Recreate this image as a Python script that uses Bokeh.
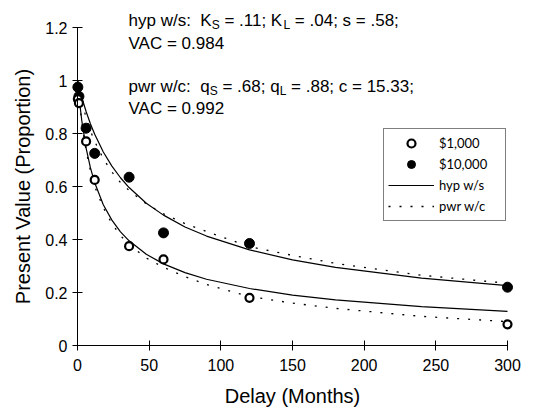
import math
from bokeh.plotting import figure
from bokeh.models import Range1d, FixedTicker, Legend, LegendItem, Label
from bokeh.embed import file_html
from bokeh.resources import INLINE

# ---------------- data ----------------
delays = [0.25, 1, 6, 12, 36, 60, 120, 300]
pv_1000 = [0.93, 0.915, 0.77, 0.625, 0.375, 0.325, 0.18, 0.08]
pv_10000 = [0.975, 0.94, 0.82, 0.725, 0.635, 0.425, 0.385, 0.22]

curve_delays = [0, 1, 3, 6, 9, 12, 18, 24, 30, 36, 48, 60, 75, 90, 120, 150, 180, 240, 300]
hyp_small = [1.0, 0.941, 0.848, 0.745, 0.671, 0.614, 0.531, 0.473, 0.429, 0.395, 0.344, 0.308,
             0.275, 0.250, 0.215, 0.190, 0.172, 0.147, 0.129]
hyp_large = [1.0, 0.977, 0.936, 0.883, 0.837, 0.797, 0.730, 0.677, 0.633, 0.596, 0.537, 0.492,
             0.447, 0.413, 0.361, 0.323, 0.295, 0.254, 0.226]
pwr_small = [1.0, 0.94, 0.84, 0.735, 0.66, 0.60, 0.52, 0.46, 0.415, 0.38, 0.33, 0.295,
             0.26, 0.23, 0.185, 0.16, 0.14, 0.11, 0.09]
pwr_large = [1.0, 0.97, 0.92, 0.86, 0.81, 0.77, 0.705, 0.655, 0.615, 0.585, 0.535, 0.497,
             0.46, 0.43, 0.373, 0.34, 0.31, 0.265, 0.235]

x_ticks = [0, 50, 100, 150, 200, 250, 300]
y_ticks = [0, 0.2, 0.4, 0.6, 0.8, 1, 1.2]
y_tick_labels = ["0", "0.2", "0.4", "0.6", "0.8", "1", "1.2"]
legend_labels = ["$1,000", "$10,000", "hyp w/s", "pwr w/c"]

# ---------------- figure ----------------
PX = 430 / 300.0      # pixels per month
PY = 265.0            # pixels per unit proportion
FONT = "Liberation Sans"
X_START = -77 / PX
FRAME_W = 521
Y_START = -(408 - 345) / PY
FRAME_H = 400

p = figure(width=541, height=408, title=None,
           x_range=Range1d(X_START, X_START + FRAME_W / PX),
           y_range=Range1d(Y_START, Y_START + FRAME_H / PY),
           output_backend="svg", toolbar_location=None,
           min_border_left=0, min_border_right=20, min_border_top=8, min_border_bottom=0)
p.xgrid.visible = False
p.ygrid.visible = False
p.outline_line_color = None

for ax in (p.xaxis, p.yaxis):
    ax.axis_line_color = "black"
    ax.major_tick_line_color = "black"
    ax.minor_tick_line_color = None
    ax.major_tick_in = 5
    ax.major_tick_out = 5
    ax.major_label_text_font = FONT
    ax.major_label_text_font_size = "16px"
    ax.major_label_text_color = "black"

p.xaxis.ticker = FixedTicker(ticks=x_ticks)
p.xaxis.bounds = (0, 300)
p.xaxis.fixed_location = 0
p.xaxis.major_label_standoff = 8
p.xaxis.axis_label = "Delay (Months)"
p.xaxis.axis_label_text_font = FONT
p.xaxis.axis_label_text_font_size = "20px"
p.xaxis.axis_label_text_font_style = "normal"
p.xaxis.axis_label_text_color = "black"
p.xaxis.axis_label_standoff = 11

p.yaxis.ticker = FixedTicker(ticks=y_ticks)
p.yaxis.major_label_overrides = {t: s for t, s in zip(y_ticks, y_tick_labels)}
p.yaxis.bounds = (0, 1.2)
p.yaxis.fixed_location = 0
p.yaxis.major_label_standoff = 5

# curves
r_hyp_s = p.line(curve_delays, hyp_small, line_color="black", line_width=1.2)
r_hyp_l = p.line(curve_delays, hyp_large, line_color="black", line_width=1.2)
r_pwr_s = p.line(curve_delays, pwr_small, line_color="black", line_width=1.3, line_dash="2 9")
r_pwr_l = p.line(curve_delays, pwr_large, line_color="black", line_width=1.3, line_dash="2 9")

# points
r_big = p.scatter(delays, pv_10000, marker="circle", size=10, fill_color="black", line_color="black")
r_small = p.scatter(delays, pv_1000, marker="circle", size=8, fill_color="white", line_color="black", line_width=2.2)

legend = Legend(items=[
    LegendItem(label=legend_labels[0], renderers=[r_small]),
    LegendItem(label=legend_labels[1], renderers=[r_big]),
    LegendItem(label=legend_labels[2], renderers=[r_hyp_s]),
    LegendItem(label=legend_labels[3], renderers=[r_pwr_s]),
], location=(383, 408 - 221), margin=0, padding=4, spacing=1,
    glyph_width=46, glyph_height=20, label_height=20, label_width=62, label_standoff=5,
    label_text_font="Lato", label_text_font_size="13px", label_text_color="black",
    border_line_color="black", border_line_width=1, background_fill_color="white",
    background_fill_alpha=1)
p.add_layout(legend)

# y axis title
p.add_layout(Label(x=(22 - 77) / PX, y=0.6, text="Present Value (Proportion)", angle=math.pi / 2,
                   text_align="center", text_baseline="middle", text_font=FONT,
                   text_font_size="20px", text_color="black"))

# annotation text with subscripts
AW = {' ': 278, '$': 556, '(': 333, ')': 333, ',': 278, '.': 278, '/': 278, ':': 278, ';': 278,
      '=': 584, 'A': 667, 'C': 722, 'K': 667, 'L': 556, 'S': 667, 'V': 667, 'a': 556, 'c': 500,
      'e': 556, 'h': 556, 'p': 556, 'q': 556, 'r': 333, 's': 500, 'w': 722, 'y': 500}
for d in "0123456789":
    AW[d] = 556

def tw(s, size):
    return sum(AW.get(c, 556) for c in s) / 1000.0 * size

MAIN, SUB = 17, 12
X0 = (128 - 77) / PX

def text_line(segments, y_base):
    off = 0.0
    for txt, sub, gap in segments:
        off += gap * tw(' ', MAIN)
        size = SUB if sub else MAIN
        yy = y_base - (4 / PY if sub else 0)
        p.add_layout(Label(x=X0, y=yy, x_offset=off, text=txt, text_font=FONT,
                           text_font_size=f"{size}px", text_color="black",
                           text_align="left", text_baseline="alphabetic"))
        off += tw(txt, size)

text_line([("hyp w/s:", False, 0), ("K", False, 2), ("S", True, 0), ("= .11; K", False, 1),
           ("L", True, 0), ("= .04; s = .58;", False, 1)], (345 - 20) / PY)
text_line([("VAC = 0.984", False, 0)], (345 - 43) / PY)
text_line([("pwr w/c:", False, 0), ("q", False, 2), ("S", True, 0), ("= .68; q", False, 1),
           ("L", True, 0), ("= .88; c = 15.33;", False, 1)], (345 - 86) / PY)
text_line([("VAC = 0.992", False, 0)], (345 - 108) / PY)

open("out.html", "w").write(file_html(p, INLINE))
